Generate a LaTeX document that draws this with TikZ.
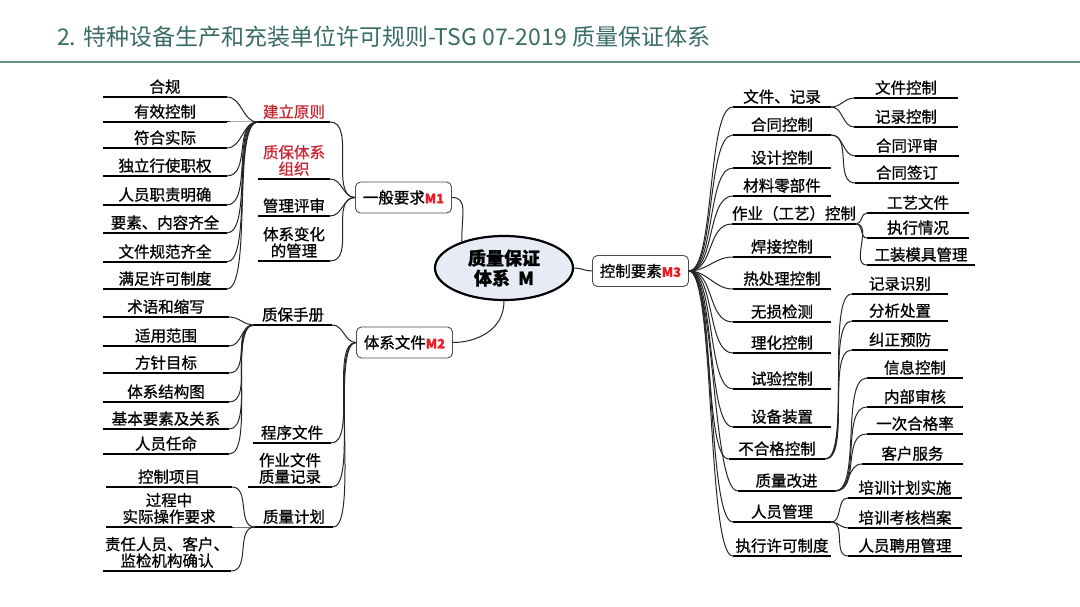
\documentclass[tikz,border=0pt]{standalone}
\usepackage{fontspec}
\newfontfamily\cjk{Noto Sans CJK SC}[FakeBold=0.9]
\newfontfamily\cjkt{Noto Sans CJK SC}
\usetikzlibrary{shapes.geometric}
\definecolor{ttl}{RGB}{58,108,102}
\definecolor{rul}{RGB}{100,145,140}
\definecolor{mred}{RGB}{232,30,36}
\definecolor{hred}{RGB}{200,40,52}
\definecolor{efill}{RGB}{231,235,245}

\begin{document}
\begin{tikzpicture}[x=1pt,y=-1pt,
  font=\cjk\fontsize{15.5}{16.5}\selectfont,
  uln/.style={line width=2.8pt,draw=black},
  lf/.style={anchor=south,inner xsep=0pt,inner ysep=3pt,align=center,minimum width=#1,
    append after command={(\tikzlastnode.south west) edge[uln] (\tikzlastnode.south east)}},
  cn/.style={line width=1pt,draw=black!85,max distance=26pt},
  rt/.style={out=0,in=180},
  lt/.style={out=180,in=0},
  box/.style={draw=black!70,line width=0.9pt,rounded corners=5pt,fill=white,
    minimum width=96pt,minimum height=31pt,inner sep=0pt},
  hl/.style={text=hred}
]
\useasboundingbox (0,0) rectangle (1080,607);

% title
\node[anchor=west,text=ttl,inner sep=0pt,font=\cjkt\fontsize{23}{26}\selectfont] (title) at (57,37)
  {2. 特种设备生产和充装单位许可规则-TSG 07-2019 质量保证体系};
\draw[line width=2pt,draw=rul] (0,62) -- (1080,62);

% centre
\node[ellipse,draw=black,line width=2.2pt,fill=efill,minimum width=138pt,minimum height=64pt,
  inner sep=0pt,align=center,font=\cjk\fontsize{18}{20}\selectfont\bfseries] (M) at (504,268)
  {质量保证\\体系\ \ M};
\node[box] (M1) at (403.5,197.5) {一般要求\textcolor{mred}{\bfseries\fontsize{13}{15}\selectfont M1}};
\node[box] (M2) at (404.5,342.5) {体系文件\textcolor{mred}{\bfseries\fontsize{13}{15}\selectfont M2}};
\node[box] (M3) at (640.5,271) {控制要素\textcolor{mred}{\bfseries\fontsize{13}{15}\selectfont M3}};

\draw[cn] (M1.east) .. controls +(16,0) and +(0,-28) .. (M.148);
\draw[cn] (M.south) .. controls +(0,30) and +(22,0) .. (M2.east);
\draw[cn] (M.east) to[rt] (M3.west);

% ---------- M1 ----------
\node[lf=72pt,hl] (A1) at (294,122) {建立原则};
\node[lf=72pt,hl] (A2) at (294,179) {质保体系\\组织};
\node[lf=72pt] (A3) at (294,216) {管理评审};
\node[lf=72pt] (A4) at (294,261) {体系变化\\的管理};
\foreach \n in {A1,A2,A3,A4}
  \draw[cn] (\n.south east) to[rt] (M1.west);

\foreach \n/\t/\y in {L1/合规/97,L2/有效控制/122,L3/符合实际/148,L4/独立行使职权/176,
    L5/人员职责明确/205,L6/要素、内容齐全/233,L7/文件规范齐全/262,L8/满足许可制度/289}
{
  \node[lf=123pt] (\n) at (165,\y) {\t};
  \draw[cn] (\n.south east) to[rt] (A1.south west);
}

% ---------- M2 ----------
\node[lf=78pt] (B1) at (293,325) {质保手册};
\node[lf=78pt] (B2) at (292,443) {程序文件};
\node[lf=84pt] (B3) at (290,487) {作业文件\\质量记录};
\node[lf=78pt] (B4) at (294,527) {质量计划};
\foreach \n in {B1,B2,B3,B4}
  \draw[cn] (M2.west) to[lt] (\n.south east);

\foreach \n/\t/\y in {C1/术语和缩写/317,C2/适用范围/346,C3/方针目标/373,
    C4/体系结构图/402,C5/基本要素及关系/429,C6/人员任命/454}
{
  \node[lf=126pt] (\n) at (166,\y) {\t};
  \draw[cn] (B1.south west) to[lt] (\n.south east);
}

\node[lf=126pt] (D1) at (169,487) {控制项目};
\node[lf=126pt] (D2) at (169,527) {过程中\\实际操作要求};
\node[lf=128pt] (D3) at (167,571) {责任人员、客户、\\监检机构确认};
\foreach \n in {D1,D2,D3}
  \draw[cn] (B4.south west) to[lt] (\n.south east);

% ---------- M3 ----------
\foreach \n/\t/\y in {R1/文件、记录/107,R2/合同控制/135,R3/设计控制/168,R4/材料零部件/196,
    R6/焊接控制/257,R7/热处理控制/289,R8/无损检测/322,R9/理化控制/353,
    R10/试验控制/389,R11/设备装置/427,R14/人员管理/522,R15/执行许可制度/556}
  \node[lf=98pt] (\n) at (782,\y) {\t};
\node[lf=122pt] (R5) at (794,224) {作业（工艺）控制};
\node[lf=96pt] (R12) at (777,459) {不合格控制};
\node[lf=97pt] (R13) at (786.5,491) {质量改进};
\foreach \n in {R1,R2,R3,R4,R5,R6,R7,R8,R9,R10,R11,R12,R13,R14,R15}
  \draw[cn] (M3.east) to[rt] (\n.south west);

\node[lf=103pt] (S1) at (906,98) {文件控制};
\node[lf=103pt] (S2) at (906,127) {记录控制};
\node[lf=103pt] (S3) at (907,156) {合同评审};
\node[lf=103pt] (S4) at (907,183) {合同签订};
\foreach \n/\p in {S1/R1,S2/R1,S3/R2,S4/R2}
  \draw[cn] (\p.south east) to[rt] (\n.south west);

\node[lf=102pt] (S5) at (918,213) {工艺文件};
\node[lf=102pt] (S6) at (918,238) {执行情况};
\node[lf=108pt] (S7) at (921,265) {工装模具管理};
\foreach \n in {S5,S6,S7}
  \draw[cn] (R5.south east) to[rt] (\n.south west);

\node[lf=96pt] (S8) at (900,294) {记录识别};
\node[lf=96pt] (S9) at (900,321) {分析处置};
\node[lf=96pt] (S10) at (900,350) {纠正预防};
\foreach \n in {S8,S9,S10}
  \draw[cn] (R12.south east) to[rt] (\n.south west);

\node[lf=96pt] (S11) at (915,378) {信息控制};
\node[lf=96pt] (S12) at (915,407) {内部审核};
\node[lf=96pt] (S13) at (915,434) {一次合格率};
\node[lf=101pt] (S14) at (912.5,464) {客户服务};
\foreach \n in {S11,S12,S13,S14}
  \draw[cn] (R13.south east) to[rt] (\n.south west);

\node[lf=114pt] (S15) at (905,498) {培训计划实施};
\node[lf=114pt] (S16) at (905,528) {培训考核档案};
\node[lf=114pt] (S17) at (905,556) {人员聘用管理};
\foreach \n in {S15,S16,S17}
  \draw[cn] (R14.south east) to[rt] (\n.south west);

\end{tikzpicture}
\end{document}
